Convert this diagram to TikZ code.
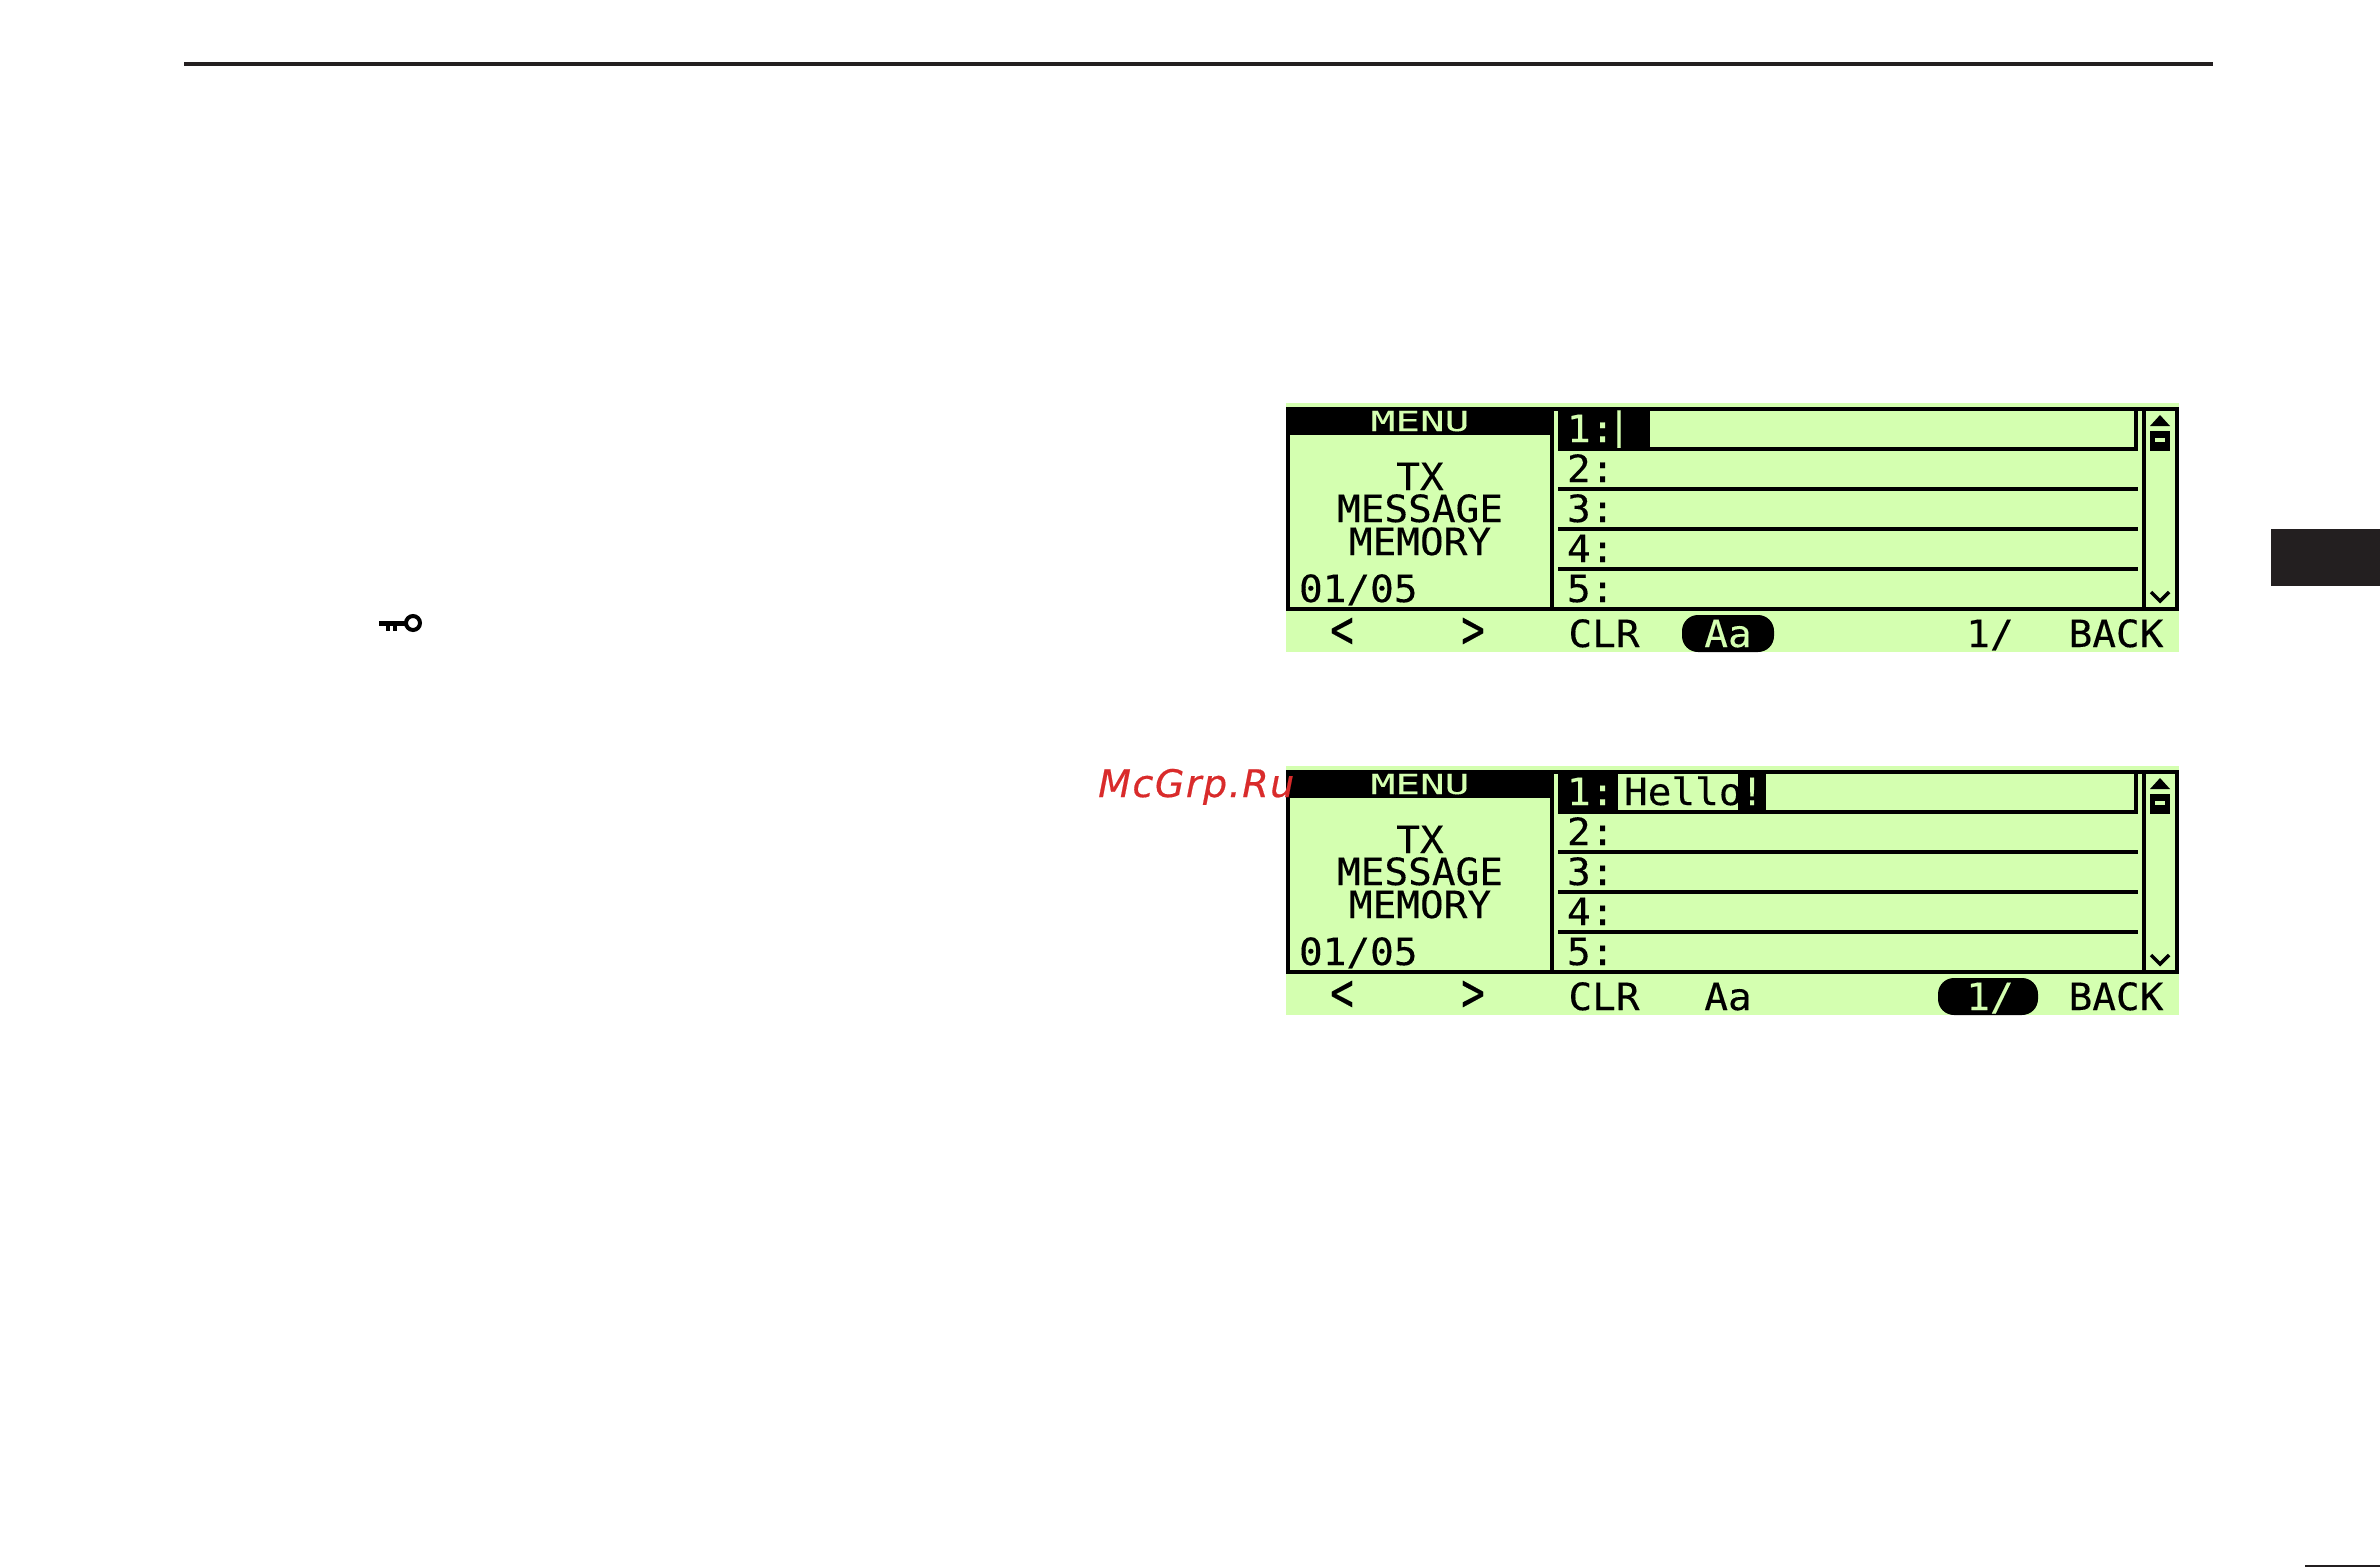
\documentclass[tikz,border=0pt]{standalone}
\usepackage{fontspec}
\newfontfamily\lcdfont[FakeBold=0.25]{DejaVu Sans Mono}
\newfontfamily\wmfont[LetterSpace=4,FakeBold=0.4]{DejaVu Sans}
\definecolor{lcdgreen}{HTML}{D4FFB0}
\definecolor{inkdark}{HTML}{231F20}
\definecolor{wmred}{HTML}{D92B2B}
\tikzset{
  lcdtext/.style={inner sep=0pt,outer sep=0pt,anchor=base,font=\lcdfont\fontsize{37.5}{37.5}\selectfont,text=black,xscale=1.05,transform shape},
  lcdleft/.style={lcdtext,anchor=base west},
  lcdinv/.style={lcdtext,text=lcdgreen},
  lcdinvleft/.style={lcdleft,text=lcdgreen},
  lcdmenu/.style={lcdinv,font=\lcdfont\fontsize{27.5}{27.5}\selectfont,xscale=1.42,transform shape},
  lcdangle/.style={lcdtext,yscale=1.45,transform shape},
}
\newcommand{\lcdscreen}[1]{%
  \fill[lcdgreen] (1286,403) rectangle (2179,652);
  \fill[black] (1286,407) rectangle (2179,411);
  \fill[black] (1286,607) rectangle (2179,611);
  \fill[black] (1286,407) rectangle (1290,611);
  \fill[black] (2175,407) rectangle (2179,611);
  \fill[black] (1286,407) rectangle (1550,435);
  \fill[black] (1550,407) rectangle (1554,611);
  \fill[black] (2142,407) rectangle (2146,611);
  \fill[black] (1558,447) rectangle (2138,451);
  \fill[black] (2134,407) rectangle (2138,451);
  \fill[black] (1558,487) rectangle (2138,491);
  \fill[black] (1558,527) rectangle (2138,531);
  \fill[black] (1558,567) rectangle (2138,571);
  \fill[black] (2160,415) -- (2170,426) -- (2150,426) -- cycle;
  \fill[black] (2150,431) rectangle (2170,451);
  \fill[lcdgreen] (2155,438) rectangle (2165,442);
  \draw[black,line width=3.5pt] (2151,592) -- (2160,601) -- (2169,592);
  \node[lcdmenu] (#1menu) at (1420,431) {MENU};
  \node[lcdtext] (#1tx) at (1420,490) {TX};
  \node[lcdtext] (#1msg) at (1420,522) {MESSAGE};
  \node[lcdtext] (#1mem) at (1420,555) {MEMORY};
  \node[lcdleft] (#1pos) at (1299,602) {01/05};
  \node[lcdleft] (#1row2) at (1567,482) {2:};
  \node[lcdleft] (#1row3) at (1567,522) {3:};
  \node[lcdleft] (#1row4) at (1567,562) {4:};
  \node[lcdleft] (#1row5) at (1567,602) {5:};
  \node[lcdangle] (#1lt) at (1342,648) {<};
  \node[lcdangle] (#1gt) at (1473,648) {>};
  \node[lcdtext] (#1clr) at (1604,647) {CLR};
  \node[lcdtext] (#1back) at (2116,647) {BACK};
}
\begin{document}
\begin{tikzpicture}[x=1pt,y=-1pt]
\useasboundingbox (0,0) rectangle (2380,1567);
\fill[white] (0,0) rectangle (2380,1567);
% page furniture
\fill[inkdark] (184,62) rectangle (2213,66);
\fill[inkdark] (2271,529) rectangle (2380,586);
\fill[inkdark] (2305,1565) rectangle (2380,1567);
% key icon
\draw[black,line width=4pt] (413,623) circle[radius=7];
\fill[black] (379,621) rectangle (406,625.5);
\fill[black] (386,623) rectangle (389.5,631);
\fill[black] (393,623) rectangle (397,631);
% first screen
\begin{scope}
  \lcdscreen{a}
  \fill[black] (1558,407) rectangle (1650,451);
  \node[lcdinvleft] (arow1) at (1567,442) {1:};
  \node[lcdinv] (acur) at (1619,439) {|};
  \fill[black,rounded corners=16pt] (1682,615) rectangle (1774,652);
  \node[lcdinv] (aaa) at (1728,647) {Aa};
  \node[lcdtext] (aone) at (1990,647) {1/};
\end{scope}
% second screen
\begin{scope}[shift={(0,363)}]
  \lcdscreen{b}
  \fill[black] (1558,407) rectangle (1618,451);
  \fill[black] (1738,407) rectangle (1766,451);
  \node[lcdinvleft] (brow1) at (1567,442) {1:};
  \node[lcdleft] (bhello) at (1624,442) {Hello};
  \node[lcdinv] (bbang) at (1752,442) {!};
  \node[lcdtext] (baa) at (1728,647) {Aa};
  \fill[black,rounded corners=16pt] (1938,615) rectangle (2038,652);
  \node[lcdinv] (bone) at (1990,647) {1/};
\end{scope}
% watermark
\node[inner sep=0pt,anchor=base west,text=wmred,font=\wmfont\itshape\fontsize{38}{38}\selectfont] (wm) at (1098,797) {McGrp.Ru};
\end{tikzpicture}
\end{document}
